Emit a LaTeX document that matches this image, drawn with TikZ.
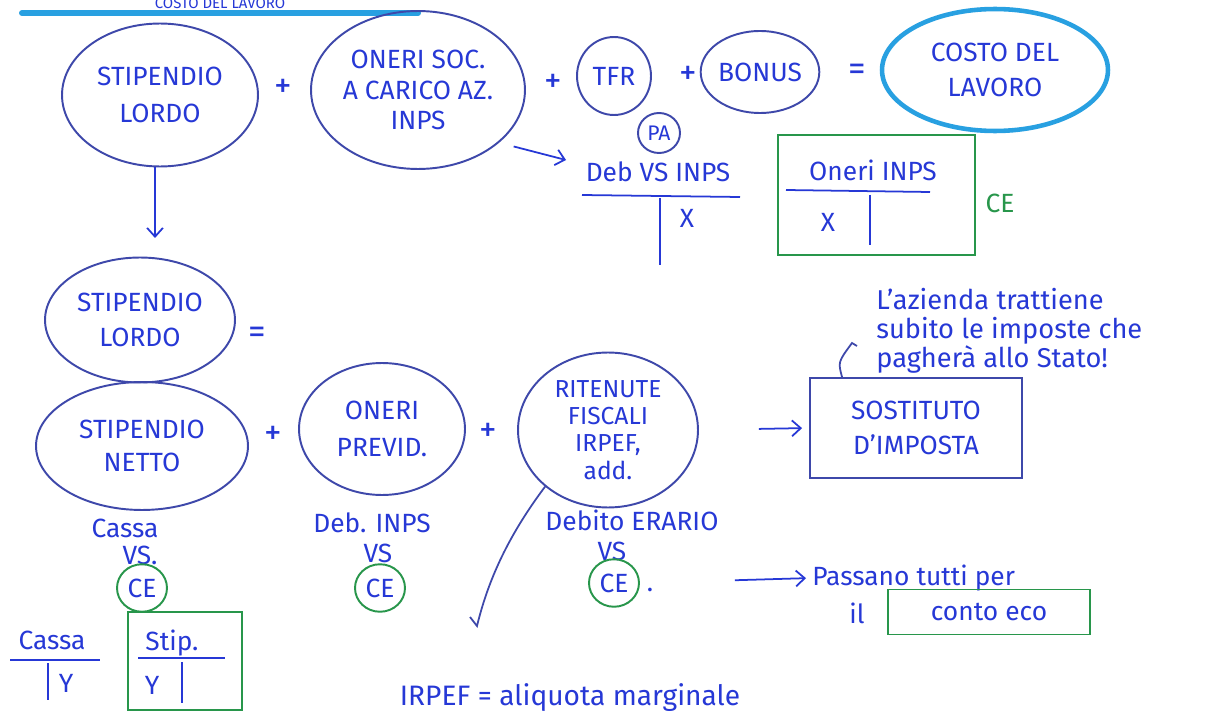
\documentclass[tikz,border=0pt]{standalone}
\usepackage{fontspec}
\setmainfont{Fira Sans}
\usetikzlibrary{shapes.geometric,arrows.meta}
\definecolor{ink}{RGB}{38,56,214}
\definecolor{pen}{RGB}{62,72,170}
\definecolor{hilite}{RGB}{40,160,225}
\definecolor{grn}{RGB}{40,150,75}
\begin{document}
\begin{tikzpicture}[x=0.02cm,y=-0.02cm,
  txt/.style={text=ink,font=\fontsize{15}{17}\selectfont,align=center,inner sep=0pt},
  bubble/.style={ellipse,draw=pen,line width=1.1pt,text=ink,font=\fontsize{15}{20}\selectfont,align=center,inner sep=0pt},
  cebub/.style={ellipse,draw=grn,line width=1.1pt,text=ink,font=\fontsize{15}{18}\selectfont,minimum width=1cm,minimum height=0.95cm,inner sep=0pt},
  sym/.style={text=ink,font=\fontsize{20}{20}\selectfont,inner sep=0pt},
  rule/.style={draw=ink,line width=1pt},
  penline/.style={draw=pen,line width=1pt},
  greenbox/.style={draw=grn,line width=1.1pt},
  arr/.style={draw=ink,line width=1pt,-{Straight Barb[length=5pt,width=9pt]}},
]
\useasboundingbox[fill=white] (0,0) rectangle (1205,713);

% title with highlighter underline
\node[txt,font=\fontsize{8.5}{8.5}\selectfont,anchor=base] (title) at (220,9) {COSTO DEL LAVORO};
\coordinate (hlA) at (22,13);
\coordinate (hlB) at (418,13);
\draw[hilite,line width=3.4pt,line cap=round] (hlA) -- (hlB);

% first equation: cost of labour
\node[bubble,font=\fontsize{15}{21}\selectfont,minimum width=3.92cm,minimum height=2.86cm] (sl1) at (160,95) {STIPENDIO\\LORDO};
\node[sym] (plus1) at (283,88) {+};
\node[bubble,font=\fontsize{15}{17.5}\selectfont,minimum width=4.28cm,minimum height=3.16cm] (oneri) at (418,90) {ONERI SOC.\\A CARICO AZ.\\INPS};
\node[sym] (plus2) at (553,83) {+};
\node[bubble,minimum width=1.48cm,minimum height=1.56cm] (tfr) at (614,76) {TFR};
\node[sym] (plus3) at (688,75) {+};
\node[bubble,minimum width=2.2cm,minimum height=1.64cm] (bonus) at (760,72) {BONUS};
\node[sym] (eq1) at (857,72) {=};
\node[bubble,draw=hilite,line width=2.6pt,minimum width=4.52cm,minimum height=2.44cm] (costo) at (995,70) {COSTO DEL\\LAVORO};

% liability towards INPS
\node[bubble,minimum width=0.84cm,minimum height=0.8cm,font=\fontsize{12}{14}\selectfont] (pa) at (659,133) {PA};
\node[txt] (debinps) at (658,172) {Deb VS INPS};
\coordinate (debarr) at (566,160);
\draw[arr,shorten <=0.3cm] (oneri.-33) -- (debarr);
\draw[rule] (582,195) -- (740,197);
\draw[rule] (660,198) -- (660,265);
\node[txt] (x1) at (687,218) {X};

% cost account (CE)
\draw[greenbox] (778,135) rectangle (975,255);
\node[txt] (onerinps) at (873,170) {Oneri INPS};
\draw[rule] (786,190) -- (930,192);
\draw[rule] (870,195) -- (870,245);
\node[txt] (x2) at (828,222) {X};
\node[txt,text=grn] (ce0) at (1000,203) {CE};

% arrow down
\coordinate (downend) at (155,238);
\draw[arr] (sl1.south -| downend) -- (downend);

% second equation: gross salary breakdown
\node[bubble,minimum width=3.8cm,minimum height=2.5cm] (sl2) at (140,320) {STIPENDIO\\LORDO};
\node[sym] (eq2) at (257,335) {=};
\node[bubble,font=\fontsize{15}{19}\selectfont,minimum width=4.24cm,minimum height=2.56cm] (netto) at (142,446) {STIPENDIO\\NETTO};
\node[sym] (plus4) at (273,435) {+};
\node[bubble,font=\fontsize{15}{21}\selectfont,minimum width=3.32cm,minimum height=2.64cm] (previd) at (382,429) {ONERI\\PREVID.};
\node[sym] (plus5) at (488,432) {+};
\node[bubble,font=\fontsize{14}{15.5}\selectfont,minimum width=3.6cm,minimum height=3.1cm] (rit) at (608,430) {RITENUTE\\FISCALI\\IRPEF,\\add.};

% withholding agent
\node[draw=pen,line width=1.1pt,text=ink,font=\fontsize{15}{20}\selectfont,align=center,minimum width=4.24cm,minimum height=2.0cm] (sost) at (916,428) {SOSTITUTO\\D'IMPOSTA};
\draw[arr,shorten <=1.2cm,shorten >=0.14cm] (rit.east) -- (sost.west);
\node[txt,align=left,anchor=north west,font=\fontsize{15.5}{16.5}\selectfont] (note) at (876,288) {L'azienda trattiene\\subito le imposte che\\pagherà allo Stato!};
\coordinate (hook) at (852,343);
\draw[penline] ([xshift=0.66cm]sost.north west) .. controls (838,362) .. (hook) -- ++(5,3);

% long stroke from the tax withholdings
\coordinate (tick) at (477,626);
\draw[penline] (rit.222) .. controls (505,540) and (487,585) .. (tick) -- ++(-7,-9);

% account pairs
\node[txt] (cassa) at (125,528) {Cassa};
\node[txt] (vs1) at (140,555) {VS.};
\node[cebub] (ce1) at (142,588) {CE};
\node[txt] (debinps2) at (372,523) {Deb. INPS};
\node[txt] (vs2) at (378,553) {VS};
\node[cebub] (ce2) at (380,588) {CE};
\node[txt] (deberario) at (632,520) {Debito ERARIO};
\node[txt] (vs3) at (612,551) {VS};
\node[cebub] (ce3) at (614,583) {CE};
\node[txt] (dot3) at (650,590) {.};

% all go through the income statement
\node[txt,anchor=west] (passano) at (812,578) {Passano tutti per};
\node[txt] (il) at (857,613) {il};
\node[txt,draw=grn,line width=1.1pt,minimum width=4.04cm,minimum height=0.9cm] (contoeco) at (989,612) {conto eco};
\draw[arr,shorten <=1.9cm,shorten >=0.12cm] (ce3.east) -- (passano.west);

% T-accounts: cash and salaries
\node[txt] (cassa2) at (52,640) {Cassa};
\draw[rule] (10,660) -- (100,660);
\draw[rule] (48,663) -- (48,700);
\node[txt] (y1) at (66,683) {Y};
\draw[greenbox] (128,612) rectangle (242,710);
\node[txt] (stip) at (172,643) {Stip.};
\draw[rule] (138,658) -- (225,658);
\draw[rule] (182,662) -- (182,703);
\node[txt] (y2) at (152,685) {Y};

% footnote
\node[txt,font=\fontsize{16}{16}\selectfont] (irpef) at (570,698) {IRPEF = aliquota marginale};
\end{tikzpicture}
\end{document}
